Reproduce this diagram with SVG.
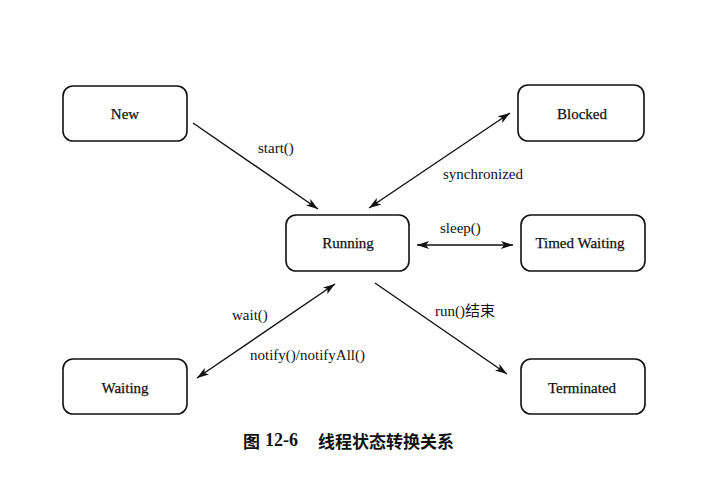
<svg xmlns="http://www.w3.org/2000/svg" width="719" height="480" viewBox="0 0 719 480">
<style>
.box{fill:#fff;stroke:#111;stroke-width:1.6}
.nt{font-family:"Liberation Serif","Noto Sans CJK SC",serif;font-size:15px;fill:#111;text-anchor:middle;dominant-baseline:central;stroke:#111;stroke-width:0.25}
.lb{font-family:"Liberation Serif","Noto Sans CJK SC",serif;font-size:15px;fill:#111;dominant-baseline:central}
.ln{stroke:#111;stroke-width:1.4;fill:none}
.cap{font-family:"Noto Sans CJK SC",sans-serif;font-size:17px;font-weight:bold;fill:#111;dominant-baseline:central}
.capn{font-family:"Liberation Serif",serif;font-size:18px;font-weight:bold;fill:#111;dominant-baseline:central}
</style>
<defs>
<marker id="ah" viewBox="0 0 12 8" refX="12" refY="4" markerWidth="12" markerHeight="8" markerUnits="userSpaceOnUse" orient="auto-start-reverse">
<path d="M0,0 L12,4 L0,8 L3,4 Z" fill="#111"/>
</marker>
</defs>
<rect width="719" height="480" fill="#fff"/>
<g id="connectors">
<line class="ln" x1="193" y1="123" x2="318" y2="209" marker-end="url(#ah)"/>
<line class="ln" x1="369" y1="208" x2="510" y2="113" marker-start="url(#ah)" marker-end="url(#ah)"/>
<line class="ln" x1="417" y1="245" x2="513" y2="245" marker-start="url(#ah)" marker-end="url(#ah)"/>
<line class="ln" x1="335" y1="284" x2="197" y2="378" marker-start="url(#ah)" marker-end="url(#ah)"/>
<line class="ln" x1="375" y1="283" x2="507" y2="374" marker-end="url(#ah)"/>
<text class="lb" x="258" y="148">start()</text>
<text class="lb" x="443" y="174">synchronized</text>
<text class="lb" x="440" y="228">sleep()</text>
<text class="lb" x="435" y="311">run()结束</text>
<text class="lb" x="232" y="315">wait()</text>
<text class="lb" x="250" y="355">notify()/notifyAll()</text>
</g>
<g id="node-new"><rect class="box" x="63" y="86" width="124" height="55" rx="10"/><text class="nt" x="125" y="114">New</text></g>
<g id="node-running"><rect class="box" x="286" y="215" width="123" height="56" rx="10"/><text class="nt" x="348" y="243">Running</text></g>
<g id="node-blocked"><rect class="box" x="518" y="85" width="126" height="56" rx="10"/><text class="nt" x="582" y="114">Blocked</text></g>
<g id="node-timed"><rect class="box" x="521" y="215" width="124" height="56" rx="10"/><text class="nt" x="580" y="243">Timed Waiting</text></g>
<g id="node-waiting"><rect class="box" x="63" y="359" width="124" height="55" rx="10"/><text class="nt" x="125" y="388">Waiting</text></g>
<g id="node-terminated"><rect class="box" x="521" y="359" width="124" height="55" rx="10"/><text class="nt" x="582" y="388">Terminated</text></g>
<g id="caption">
<text class="cap" x="243" y="440">图</text>
<text class="capn" x="265" y="440">12-6</text>
<text class="cap" x="318" y="440">线程状态转换关系</text>
</g>
</svg>
